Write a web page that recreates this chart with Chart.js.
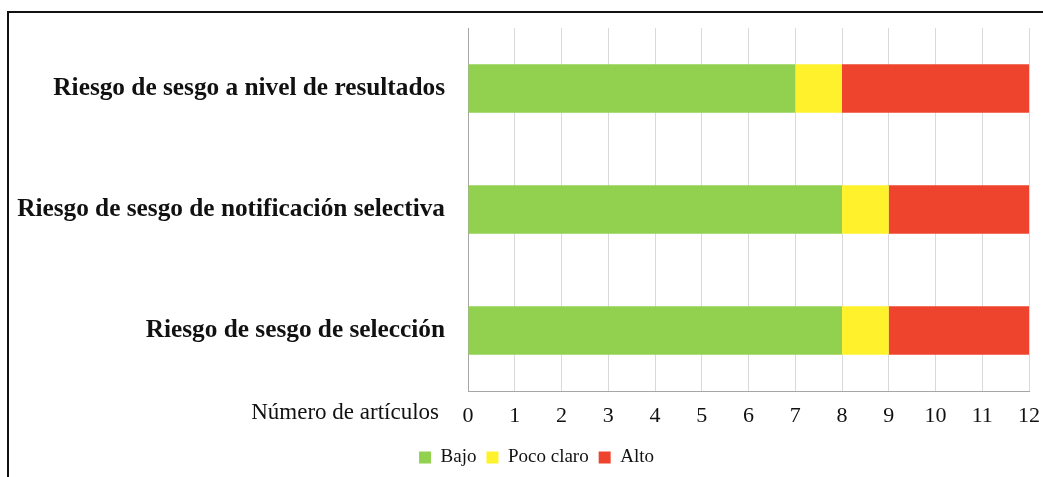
<!DOCTYPE html>
<html>
<head>
<meta charset="utf-8">
<script src="https://cdn.jsdelivr.net/npm/chart.js@4"></script>
<style>
  html, body { margin: 0; padding: 0; background: #fff; overflow: hidden; }
  #frame { position: absolute; left: 7px; top: 11px; width: 1100px; height: 500px;
           border-top: 2px solid #111; border-left: 2px solid #111; }
  #wrap { position: absolute; left: 0; top: 0; width: 1043px; height: 477px; }
</style>
</head>
<body>
<div id="frame"></div>
<div id="wrap"><canvas id="myChart"></canvas></div>
<script>
// data
const categories = [
  "Riesgo de sesgo a nivel de resultados",
  "Riesgo de sesgo de notificación selectiva",
  "Riesgo de sesgo de selección"
];
const bajo = [7, 8, 8];
const pocoClaro = [1, 1, 1];
const alto = [4, 3, 3];
const axisTitle = "Número de artículos";

const serif = "'Liberation Serif', 'Times New Roman', serif";

// x axis title drawn to the left of the tick row,
// and legend nudged a bit right like in the original
const axisTitlePlugin = {
  id: "axisTitleLeft",
  afterLayout(chart) {
    chart.legend.left += 22;
    chart.legend.right += 22;
  },
  afterDraw(chart) {
    const ctx = chart.ctx;
    ctx.save();
    ctx.font = "23px " + serif;
    ctx.fillStyle = "#111";
    ctx.textAlign = "right";
    ctx.textBaseline = "middle";
    ctx.fillText(axisTitle, chart.chartArea.left - 29, chart.chartArea.bottom + 22);
    ctx.restore();
  }
};

function noPad(scale) {
  scale.paddingTop = 0;
  scale.paddingBottom = 0;
  scale.paddingLeft = 0;
  scale.paddingRight = 0;
}

const config = {
  type: "bar",
  data: {
    labels: categories,
    datasets: [
      { label: "Bajo", data: bajo, backgroundColor: "rgb(146, 208, 80)" },
      { label: "Poco claro", data: pocoClaro, backgroundColor: "rgb(255, 242, 45)" },
      { label: "Alto", data: alto, backgroundColor: "rgb(238, 68, 46)" }
    ]
  },
  options: {
    indexAxis: "y",
    responsive: true,
    maintainAspectRatio: false,
    animation: false,
    barPercentage: 0.4,
    categoryPercentage: 1,
    layout: { padding: { left: 0, right: 14, top: 28, bottom: 0 } },
    plugins: {
      tooltip: { enabled: false },
      legend: {
        position: "bottom",
        labels: {
          boxWidth: 12,
          boxHeight: 12,
          padding: 10,
          color: "#111",
          font: { family: serif, size: 19 }
        }
      }
    },
    scales: {
      x: {
        stacked: true,
        min: 0,
        max: 12,
        ticks: { stepSize: 1, padding: 12, color: "#111", font: { family: serif, size: 22 } },
        grid: { color: "#d9d9d9", drawTicks: false },
        border: { color: "#a6a6a6" },
        afterFit(scale) { scale.height = 47; noPad(scale); }
      },
      y: {
        stacked: true,
        ticks: { padding: 23, color: "#111", font: { family: serif, size: 25.3, weight: "bold" } },
        grid: { display: false, drawTicks: false },
        border: { color: "#a6a6a6" },
        afterFit(scale) { scale.width = 468; noPad(scale); }
      }
    }
  },
  plugins: [axisTitlePlugin]
};

const myChart = new Chart(document.getElementById("myChart"), config);
</script>
</body>
</html>
